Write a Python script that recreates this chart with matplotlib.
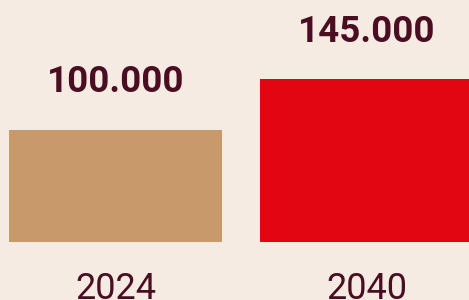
#!/usr/bin/env python3
"""Two-bar comparison chart: 2024 vs 2040."""

import matplotlib
matplotlib.use('Agg')
import matplotlib.pyplot as plt

# Data
years = ['2024', '2040']
values = [100, 145]  # thousands
value_labels = ['100.000', '145.000']
bar_colors = ['#c8996a', '#e20613']

BG = '#f5ebe3'
TEXT = '#4a0d22'

plt.rcParams['font.family'] = ['Roboto', 'DejaVu Sans']

fig = plt.figure(figsize=(4.69, 3.00), dpi=100, facecolor=BG)
ax = fig.add_axes([0, 0, 1, 1])
ax.set_facecolor(BG)

x = list(range(len(years)))
ax.bar(x, values, width=0.849, color=bar_colors)

# pixel-based layout: 251 px between bar centers, 1.12 px per thousand
ax.set_xlim(-115.5 / 251, (469 - 115.5) / 251)
ax.set_ylim(-58.5 / 1.12, (300 - 58.5) / 1.12)

for xi, v, lab in zip(x, values, value_labels):
    ax.annotate(lab, (xi, v), xytext=(0, 27), textcoords='offset points',
                ha='center', va='baseline', fontsize=26.5, fontweight='bold',
                color=TEXT)

for xi, yr in zip(x, years):
    ax.annotate(yr, (xi, 0), xycoords=('data', 'axes fraction'),
                xytext=(0, 1), textcoords='offset points',
                ha='center', va='baseline', fontsize=26, color=TEXT)

ax.axis('off')
fig.savefig('out.png', dpi=100, facecolor=BG)
